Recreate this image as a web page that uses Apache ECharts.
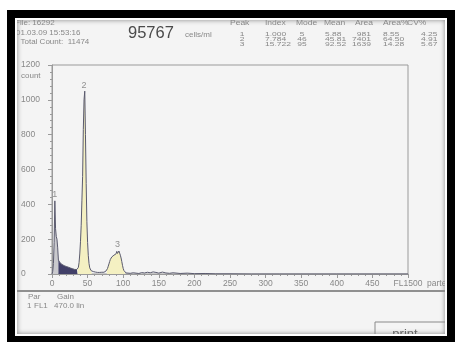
<!DOCTYPE html>
<html>
<head>
<meta charset="utf-8">
<script src="https://cdn.jsdelivr.net/npm/echarts@6/dist/echarts.min.js"></script>
<style>
html, body { margin: 0; padding: 0; background: #fff; }
#frame { position: absolute; left: 7px; top: 10px; width: 448px; height: 332px; box-sizing: border-box; border: 8px solid #000; border-bottom-width: 6px; }
#screen { position: absolute; left: 0; top: 0; width: 100%; height: 100%; box-sizing: border-box; border: 2px solid #fff; background: #f4f4f4; overflow: hidden; box-shadow: inset 0 0 5px rgba(0,0,0,.45); }
#chart { position: absolute; left: -17px; top: -20px; width: 456px; height: 346px; }
</style>
</head>
<body>
<div id="frame"><div id="screen"><div id="chart"></div></div></div>
<script>
// histogram counts, one per channel 0..104
const counts = [
  0, 15, 60, 180, 420, 260, 215, 200, 150, 80,
  72, 66, 62, 58, 55, 52, 50, 48, 46, 44,
  43, 42, 41, 39, 38, 36, 34, 33, 32, 30,
  29, 27, 26, 25, 25, 26, 28, 38, 65, 115,
  185, 280, 420, 560, 830, 1000, 1050, 800, 520, 300,
  180, 105, 60, 35, 24, 19, 16, 15, 14, 13,
  12, 11, 12, 10, 9, 10, 12, 9, 10, 8,
  10, 9, 11, 10, 12, 14, 18, 24, 32, 45,
  58, 72, 84, 92, 98, 102, 106, 108, 112, 118,
  116, 130, 118, 126, 132, 120, 108, 92, 72, 50,
  32, 20, 13, 9, 6
];
// sparser tail of the histogram
const tailChannels = [106, 110, 114, 118, 122, 126, 130, 134, 138, 142, 146, 150, 155, 160, 165, 170, 180, 190, 200, 215, 230, 250, 280, 320, 400, 500];
const tailCounts = [6, 4, 7, 5, 3, 8, 6, 10, 7, 12, 9, 5, 11, 6, 4, 7, 3, 5, 2, 3, 1, 1, 0, 0, 0, 0];

const peakNames = ['1', '2', '3'];
const peakX = [4, 45, 92];
const peakY = [455, 1080, 170];

const infoLines = ['File: 16292', '01.03.09 15:53:16', 'Total Count:  11474'];
const concValue = '95767';
const concUnit = 'cells/ml';
const peakHeader = ['Peak', 'Index', 'Mode', 'Mean', 'Area', 'Area%', 'CV%'];
const peakRows = [
  ['1', '1.000', '5', '5.88', '981', '8.55', '4.25'],
  ['2', '7.784', '46', '45.81', '7401', '64.50', '4.91'],
  ['3', '15.722', '95', '92.52', '1639', '14.28', '5.67']
];
const paramHeader = ['Par', 'Gain'];
const paramRow = ['1', 'FL1', '470.0 lin'];

const FONT = '"Liberation Sans", Arial, sans-serif';
const GREY = '#888';

const points = counts.map((c, i) => [i, c]).concat(tailChannels.map((ch, i) => [ch, tailCounts[i]]));

// filled regions under the curve
const regions = [
  { from: 0, to: 9, color: '#c9c9cd' },
  { from: 9, to: 36, color: '#413f68' },
  { from: 36, to: 56, color: '#f4f0c2' },
  { from: 77, to: 103, color: '#f4f0c2' }
];

function txt(t, x, y, size, opts) {
  opts = opts || {};
  return {
    type: 'text', x: x, y: y, silent: true,
    scaleY: opts.scaleY || 1,
    style: {
      text: t, font: (opts.weight || 'normal') + ' ' + size + 'px ' + FONT,
      fill: opts.color || GREY,
      align: opts.align || 'left', textAlign: opts.align || 'left',
      verticalAlign: 'middle', textVerticalAlign: 'middle'
    }
  };
}

const graphics = [];
const infoX = [15, 16, 20.5];
const infoY = [23, 33, 42];
infoLines.forEach((t, i) => graphics.push(txt(t, infoX[i], infoY[i], 8)));
graphics.push(txt(concValue, 128, 33, 16.5, { color: '#4a4a4a' }));
graphics.push(txt(concUnit, 185, 35, 8));

const headX = [230, 265, 296, 324, 355, 383, 407];
peakHeader.forEach((t, i) => graphics.push(txt(t, headX[i], 23.5, 8.5, { scaleY: 0.75 })));
const cellX = [242, 265, 302, 325, 371, 383, 421];
const cellAlign = ['center', 'left', 'center', 'left', 'right', 'left', 'left'];
const rowY = [34, 39.3, 44.6];
peakRows.forEach((row, r) => row.forEach((t, i) =>
  graphics.push(txt(t, cellX[i], rowY[r], 8.5, { align: cellAlign[i], scaleY: 0.72 }))));

graphics.push(txt('count', 21, 76, 8));
graphics.push(txt('partec', 427, 284, 8.5));

graphics.push({
  type: 'line', silent: true,
  shape: { x1: 15, y1: 291, x2: 448, y2: 291 },
  style: { stroke: '#8f8f8f', lineWidth: 2 }
});
graphics.push(txt(paramHeader[0], 28, 297, 8));
graphics.push(txt(paramHeader[1], 57, 297, 8));
graphics.push(txt(paramRow[0], 27, 306, 8));
graphics.push(txt(paramRow[1], 34, 306, 8));
graphics.push(txt(paramRow[2], 54, 306, 8));

graphics.push({
  type: 'rect', silent: true,
  shape: { x: 375, y: 322, width: 90, height: 30 },
  style: { fill: 'none', stroke: '#8a8a8a', lineWidth: 1 }
});
graphics.push(txt('print', 405, 334, 13, { align: 'center', color: '#666' }));

const series = regions.map(r => ({
  type: 'line',
  data: points.filter(p => p[0] >= r.from && p[0] <= r.to),
  symbol: 'none',
  lineStyle: { width: 0 },
  areaStyle: { color: r.color, opacity: 1 },
  z: 2,
  silent: true
}));
series.push({
  type: 'line',
  data: points,
  symbol: 'none',
  lineStyle: { color: '#5a5a6e', width: 1 },
  z: 5,
  silent: true
});
series.push({
  type: 'scatter',
  data: peakNames.map((n, i) => ({ name: n, value: [peakX[i], peakY[i]] })),
  symbolSize: 0,
  label: { show: true, position: 'inside', formatter: '{b}', fontSize: 9, color: '#777', fontFamily: FONT },
  z: 6,
  silent: true
});

const chart = echarts.init(document.getElementById('chart'));
chart.setOption({
  animation: false,
  backgroundColor: 'transparent',
  grid: { left: 52, top: 65, right: 48, bottom: 72, show: true, borderColor: '#9a9a9a', borderWidth: 1, backgroundColor: 'transparent' },
  xAxis: {
    type: 'value', min: 0, max: 500, interval: 50,
    axisLine: { show: true, lineStyle: { color: '#9a9a9a' } },
    axisTick: { show: true, length: 4, lineStyle: { color: '#9a9a9a' } },
    minorTick: { show: true, splitNumber: 5, length: 2, lineStyle: { color: '#9a9a9a' } },
    splitLine: { show: false },
    axisLabel: { fontSize: 8.5, color: GREY, fontFamily: FONT, margin: 5,
      formatter: v => v === 500 ? 'FL1500' : String(v) }
  },
  yAxis: {
    type: 'value', min: 0, max: 1200, interval: 200,
    axisLine: { show: true, lineStyle: { color: '#9a9a9a' } },
    axisTick: { show: true, length: 4, lineStyle: { color: '#9a9a9a' } },
    minorTick: { show: true, splitNumber: 5, length: 2, lineStyle: { color: '#9a9a9a' } },
    splitLine: { show: false },
    axisLabel: { fontSize: 8.5, color: GREY, fontFamily: FONT, align: 'left', margin: 31,
      formatter: v => String(v) }
  },
  graphic: graphics,
  series: series
});
</script>
</body>
</html>
